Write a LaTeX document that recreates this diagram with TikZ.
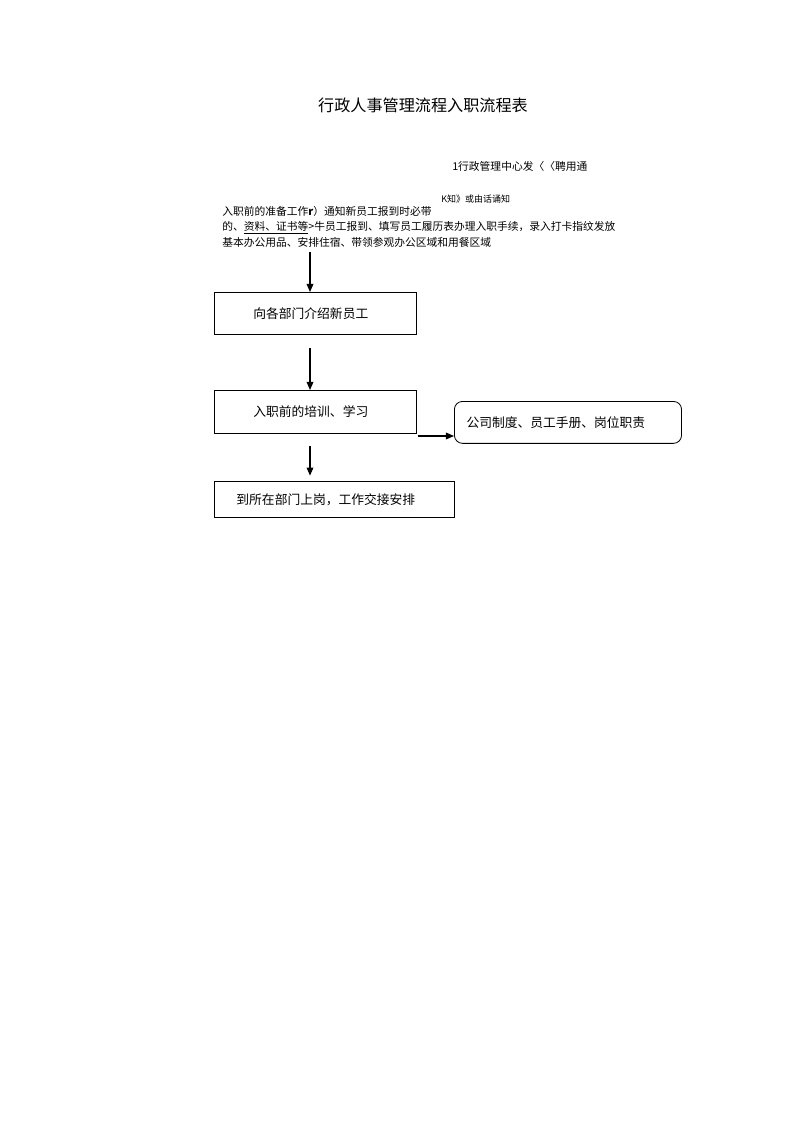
\documentclass[tikz,border=0pt]{standalone}
\usepackage{fontspec}
\setmainfont{Noto Sans CJK SC}
\usepackage{tikz}
\usetikzlibrary{arrows.meta}

\tikzset{
  arr/.style={-{Triangle[length=6pt,width=5pt]}, line width=0.8pt},
  stepbox/.style={draw, line width=0.6pt, anchor=north west, align=left,
    font=\fontsize{9.5}{11}\selectfont, inner ysep=0pt, minimum height=31.2pt},
  note/.style={inner sep=0pt, anchor=base west}
}

\begin{document}
\begin{tikzpicture}[x=0.744pt, y=-0.744pt]
\useasboundingbox (0,0) rectangle (800,1132);
% title
\node[inner sep=0pt, anchor=base, font=\fontsize{12}{14}\selectfont] (title) at (423,111) {行政人事管理流程入职流程表};
% notes above the chart
\node[note, font=\fontsize{8}{10}\selectfont] (issue) at (452,170) {1行政管理中心发〈〈聘用通};
\node[note, font=\fontsize{6.7}{8}\selectfont] (notify) at (441,202) {K知》或由话诵知};
\node[inner sep=0pt, anchor=north west, align=left, font=\fontsize{8}{11.5}\selectfont] (prep) at (222,206)
  {入职前的准备工作\textbf{r}）通知新员工报到时必带\\
   的、\underline{资料、证书等}>牛员工报到、填写员工履历表办理入职手续，录入打卡指纹发放\\
   基本办公用品、安排住宿、带领参观办公区域和用餐区域};
% boxes
\node[stepbox, text width=92pt, inner xsep=29pt] (intro) at (214,292) {向各部门介绍新员工};
\node[stepbox, text width=92pt, inner xsep=29pt, minimum height=32pt] (train) at (214,390) {入职前的培训、学习};
\node[stepbox, rounded corners=6pt, text width=151pt, inner xsep=9pt] (rules) at (454,401) {公司制度、员工手册、岗位职责};
\node[stepbox, text width=146pt, inner xsep=16.4pt, minimum height=26.8pt] (post) at (214,481) {到所在部门上岗，工作交接安排};
% arrows
\coordinate (a1) at (310,252);
\coordinate (a2) at (310,348);
\coordinate (a3) at (310,446);
\coordinate (a4) at (418,436);
\draw[arr] (a1) -- (a1 |- intro.north);
\draw[arr] (a2) -- (a2 |- train.north);
\draw[arr] (a3) -- ([yshift=4pt]a3 |- post.north);
\draw[arr] (a4) -- (a4 -| rules.west);
\end{tikzpicture}
\end{document}
